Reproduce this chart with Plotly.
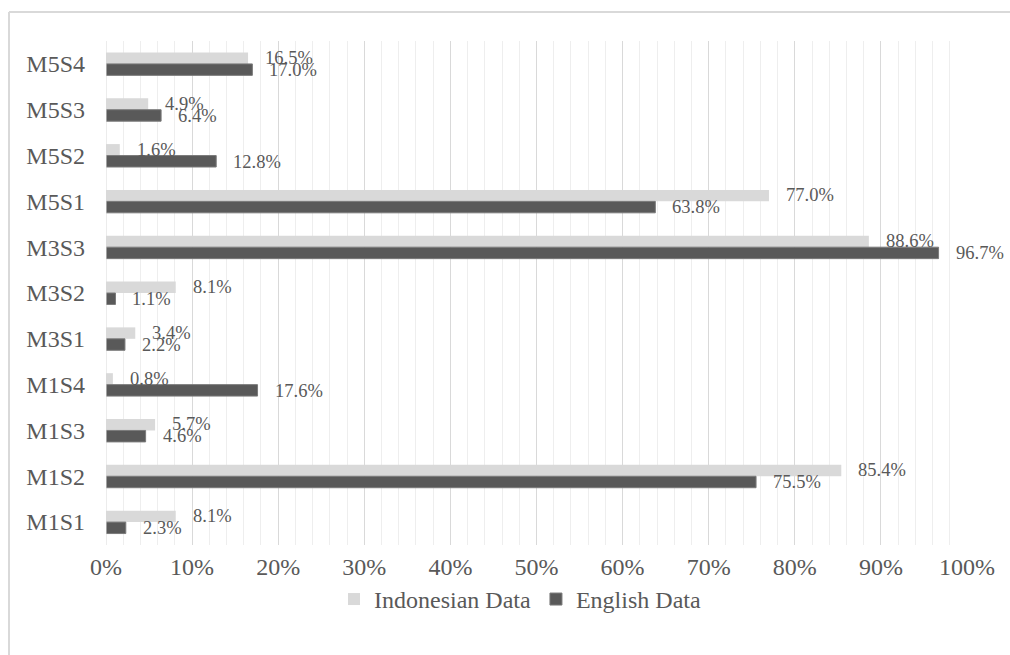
import plotly.graph_objects as go

categories = ["M5S4", "M5S3", "M5S2", "M5S1", "M3S3", "M3S2", "M3S1", "M1S4", "M1S3", "M1S2", "M1S1"]
indonesian = [16.5, 4.9, 1.6, 77.0, 88.6, 8.1, 3.4, 0.8, 5.7, 85.4, 8.1]
english = [17.0, 6.4, 12.8, 63.8, 96.7, 1.1, 2.2, 17.6, 4.6, 75.5, 2.3]
x_ticks = list(range(0, 101, 10))
x_tick_labels = [f"{t}%" for t in x_ticks]

FONT = "Liberation Serif, Times New Roman, serif"
TXT = "#595959"
LIGHT = "#d9d9d9"
DARK = "#595959"

W, H = 1010, 655
ML, MR, MT, MB = 106, 43, 41, 110
pw, ph = W - ML - MR, H - MT - MB

fig = go.Figure()
fig.add_trace(go.Bar(y=categories, x=indonesian, orientation="h", name="Indonesian Data",
                     marker=dict(color=LIGHT, line=dict(width=0)), offsetgroup="a"))
fig.add_trace(go.Bar(y=categories, x=english, orientation="h", name="English Data",
                     marker=dict(color=DARK, line=dict(color="#7a7a7a", width=1)), offsetgroup="b"))

annotations = []
for i, c in enumerate(categories):
    annotations.append(dict(x=indonesian[i], y=c, xref="x", yref="y", text=f"{indonesian[i]:.1f}%",
                            showarrow=False, xanchor="left", yanchor="middle", xshift=15, yshift=6,
                            font=dict(family=FONT, size=18.5, color=TXT)))
    annotations.append(dict(x=english[i], y=c, xref="x", yref="y", text=f"{english[i]:.1f}%",
                            showarrow=False, xanchor="left", yanchor="middle", xshift=15, yshift=-6,
                            font=dict(family=FONT, size=18.5, color=TXT)))

border = dict(color="#d9d9d9", width=2)
fig.update_layout(
    width=W, height=H,
    margin=dict(l=ML, r=MR, t=MT, b=MB, autoexpand=False),
    paper_bgcolor="white", plot_bgcolor="white",
    barmode="group", bargap=0.5, bargroupgap=0,
    font=dict(family=FONT, color=TXT, size=24),
    annotations=annotations,
    showlegend=True,
    legend=dict(orientation="h", x=(520 - ML) / pw, xanchor="center", y=-0.108, yanchor="middle",
                font=dict(family=FONT, size=24, color=TXT), traceorder="normal",
                itemwidth=30, bgcolor="rgba(0,0,0,0)"),
    xaxis=dict(range=[0, 100], tickvals=x_ticks, ticktext=x_tick_labels, showgrid=True,
               gridcolor="#d9d9d9", gridwidth=1, zeroline=False, showline=False, ticks="",
               tickfont=dict(family=FONT, size=24, color=TXT), ticklabelstandoff=5,
               minor=dict(dtick=2, showgrid=True, gridcolor="#eeeeee", gridwidth=1)),
    yaxis=dict(categoryorder="array", categoryarray=categories, autorange="reversed",
               showgrid=False, zeroline=False, showline=False, ticks="",
               tickfont=dict(family=FONT, size=24, color=TXT), ticklabelstandoff=20),
    shapes=[
        dict(type="line", xref="paper", yref="paper", x0=(9 - ML) / pw, x1=(W + 20 - ML) / pw,
             y0=1 + (MT - 12) / ph, y1=1 + (MT - 12) / ph, line=border),
        dict(type="line", xref="paper", yref="paper", x0=(9 - ML) / pw, x1=(9 - ML) / pw,
             y0=1 + (MT - 12) / ph, y1=-(MB + 20) / ph, line=border),
        dict(type="line", xref="x", yref="paper", x0=0, x1=0, y0=0, y1=1,
             line=dict(color="#d9d9d9", width=1)),
    ],
)
fig.write_html("out.html")
